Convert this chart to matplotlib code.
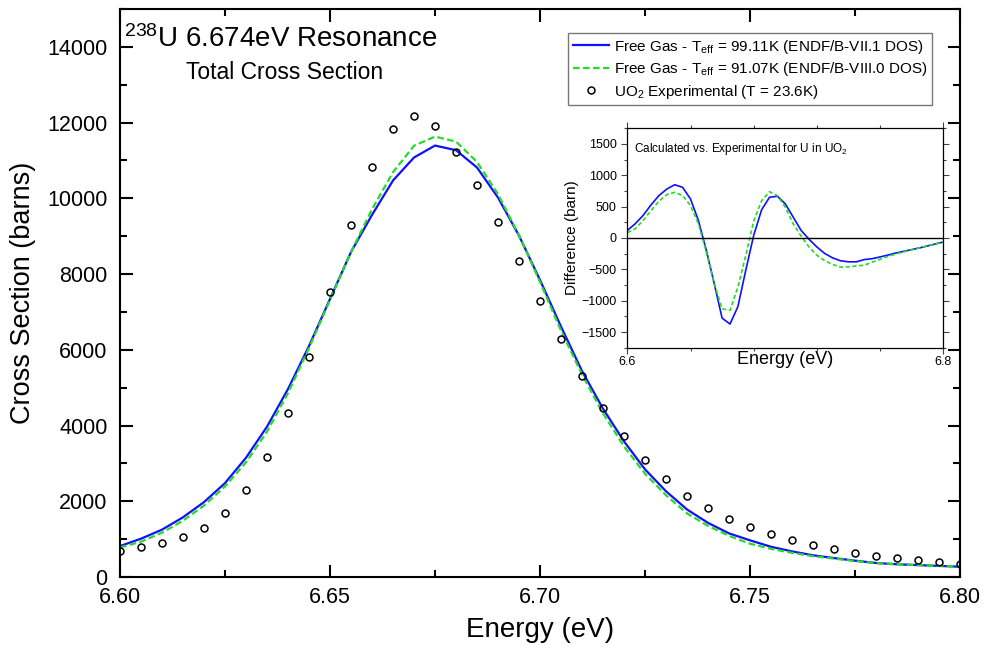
import numpy as np
import matplotlib
matplotlib.use('Agg')
import matplotlib.pyplot as plt
from matplotlib.ticker import MultipleLocator

plt.rcParams['font.family'] = ['Liberation Sans', 'DejaVu Sans']
plt.rcParams['mathtext.default'] = 'regular'

# energy grid (eV)
energy = np.round(np.arange(6.600, 6.8001, 0.005), 3)

# UO2 experimental total cross section (barns)
exp_xs = [695, 785, 890, 1049, 1302, 1699, 2299, 3162, 4341, 5820,
          7538, 9308, 10840, 11844, 12172, 11907, 11229, 10365, 9371, 8349,
          7300, 6280, 5318, 4465, 3725, 3091, 2581, 2148, 1810, 1532,
          1313, 1128, 978, 845, 740, 643, 555, 494, 441, 388, 335]

# free gas, Teff = 99.11K (ENDF/B-VII.1 DOS)
fg_vii1 = [816, 1012, 1250, 1577, 1978, 2480, 3149, 3970, 4964, 6100,
           7342, 8583, 9562, 10471, 11078, 11394, 11271, 10814, 10021, 9015,
           7844, 6613, 5439, 4445, 3582, 2843, 2264, 1784, 1430, 1152,
           969, 798, 676, 573, 500, 431, 370, 336, 314, 293, 271]

# free gas, Teff = 91.07K (ENDF/B-VIII.0 DOS)
fg_viii0 = [779, 933, 1170, 1487, 1888, 2391, 3028, 3838, 4858, 6047,
            7316, 8585, 9710, 10690, 11390, 11630, 11500, 10960, 10110, 9025,
            7791, 6507, 5348, 4322, 3450, 2727, 2159, 1682, 1350, 1087,
            879, 743, 638, 550, 485, 423, 367, 336, 314, 293, 271]

exp_xs = np.array(exp_xs)
fg_vii1 = np.array(fg_vii1)
fg_viii0 = np.array(fg_viii0)

fig = plt.figure(figsize=(9.85, 6.57), dpi=100)
ax = fig.add_axes([120/985, 80/657, 840/985, 568/657])

ax.plot(energy, fg_vii1, '-', color='#1010ff', lw=1.6,
        label='Free Gas - T$_{eff}$ = 99.11K (ENDF/B-VII.1 DOS)')
ax.plot(energy, fg_viii0, '--', color='#22dd22', lw=1.6, dashes=(3, 1.5),
        label='Free Gas - T$_{eff}$ = 91.07K (ENDF/B-VIII.0 DOS)')
ax.plot(energy, exp_xs, 'o', mfc='none', mec='black', ms=5, mew=1.1,
        label='UO$_2$ Experimental (T = 23.6K)')

ax.set_xlim(6.60, 6.80)
ax.set_ylim(0, 15000)
ax.xaxis.set_minor_locator(MultipleLocator(0.025))
ax.yaxis.set_minor_locator(MultipleLocator(1000))
ax.set_xticks([6.60, 6.65, 6.70, 6.75, 6.80])
ax.set_xticklabels(['6.60', '6.65', '6.70', '6.75', '6.80'])
ax.set_yticks(range(0, 14001, 2000))
ax.tick_params(which='both', direction='in', top=True, right=True, width=1.5)
ax.tick_params(axis='x', labelsize=15.5, pad=7.5)
ax.tick_params(axis='y', labelsize=15.5, pad=9)
ax.tick_params(which='major', length=9)
ax.tick_params(which='minor', length=5)
for sp in ax.spines.values():
    sp.set_linewidth(1.5)

ax.set_xlabel('Energy (eV)', fontsize=20, labelpad=6)
ax.set_ylabel('Cross Section (barns)', fontsize=19.5, labelpad=8)

ax.text(0.005, 0.933, '$^{238}$U 6.674eV Resonance', transform=ax.transAxes,
        fontsize=20, va='baseline', ha='left')
ax.text(0.078, 0.877, 'Total Cross Section', transform=ax.transAxes,
        fontsize=16.5, va='baseline', ha='left')

leg = ax.legend(loc='upper right', bbox_to_anchor=(932/985, 1 - 33/657),
                bbox_transform=fig.transFigure, fontsize=11, frameon=True,
                fancybox=False, edgecolor='#555555', handlelength=2.35,
                handletextpad=0.35, borderpad=0.3, labelspacing=0.3,
                borderaxespad=0)
leg.get_frame().set_linewidth(1.0)

# inset: calculated minus experimental
ins = fig.add_axes([627.3/985, (657-347.7)/657, 316/985, 219.4/657])
ins.plot(energy, fg_vii1 - exp_xs, '-', color='#1010ff', lw=1.2)
ins.plot(energy, fg_viii0 - exp_xs, '--', color='#22dd22', lw=1.2, dashes=(2.5, 1.5))
ins.axhline(0, color='black', lw=1.0)
ins.set_xlim(6.6, 6.8)
ins.set_ylim(-1750, 1750)
ins.set_xticks([6.6, 6.8])
ins.set_xticklabels(['6.6', '6.8'])
ins.xaxis.set_minor_locator(MultipleLocator(0.04))
ins.yaxis.set_minor_locator(MultipleLocator(250))
ins.set_yticks(range(-1500, 1501, 500))
ins.tick_params(which='both', direction='out', top=True, right=True, labelsize=9,
                width=0.8, color='#444444')
ins.tick_params(which='major', length=4)
ins.tick_params(which='minor', length=2.5)
ins.tick_params(axis='x', pad=2)
for sp in ins.spines.values():
    sp.set_linewidth(0.9)
ins.set_xlabel('Energy (eV)', fontsize=13, labelpad=-12)
ins.set_ylabel('Difference (barn)', fontsize=11, labelpad=2)
ins.text(0.02, 0.94, 'Calculated vs. Experimental for U in UO$_2$',
         transform=ins.transAxes, fontsize=8.5, va='top', ha='left')

fig.savefig('out.png', dpi=100)
